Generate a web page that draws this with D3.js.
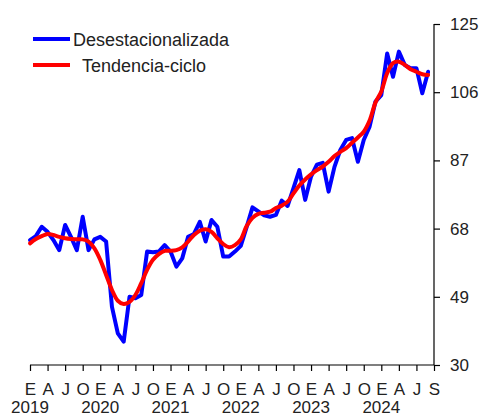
<!DOCTYPE html>
<html><head><meta charset="utf-8">
<script src="https://cdn.jsdelivr.net/npm/d3@7"></script>
<style>html,body{margin:0;padding:0;background:#fff}</style>
</head><body>
<script>
const seasonal = [64.8, 65.9, 68.5, 67.1, 64.8, 62.0, 69.0, 65.7, 62.0, 71.3,
  62.0, 65.0, 65.7, 64.4, 46.2, 38.8, 36.5, 49.0, 48.6, 49.5,
  61.6, 61.4, 61.6, 63.4, 61.6, 57.4, 59.7, 65.7, 66.5, 69.9,
  64.4, 70.4, 68.5, 60.2, 60.2, 61.6, 63.2, 68.4, 73.9, 72.8,
  71.7, 71.3, 71.8, 75.8, 74.3, 79.3, 84.3, 76.0, 82.5, 85.8,
  86.3, 78.3, 85.2, 89.9, 92.7, 93.2, 86.6, 92.7, 96.4, 103.4,
  105.2, 116.8, 110.3, 117.3, 113.6, 112.7, 112.7, 105.7, 111.7];
const trend = [63.9, 65.1, 65.9, 66.5, 66.2, 65.7, 65.3, 65.1, 65.0, 65.0,
  64.4, 62.5, 59.3, 55.1, 50.9, 47.9, 47.0, 47.6, 49.5, 52.8,
  56.5, 59.3, 60.9, 61.8, 61.8, 62.0, 62.8, 64.4, 66.2, 67.4,
  67.8, 67.1, 65.3, 63.7, 62.8, 63.4, 65.0, 68.7, 71.0, 72.1,
  72.4, 72.7, 73.7, 74.4, 75.5, 77.8, 80.0, 81.7, 83.1, 84.3,
  85.3, 86.6, 88.2, 89.4, 90.4, 91.9, 93.4, 95.0, 98.1, 103.1,
  106.2, 111.3, 114.1, 114.5, 113.6, 112.4, 111.7, 111.0, 110.8];
const monthLabels = ["E","A","J","O","E","A","J","O","E","A","J","O","E","A","J","O","E","A","J","O","E","A","J","S"];
const yearLabels = ["2019","2020","2021","2022","2023","2024"];
const yTicks = [30, 49, 68, 87, 106, 125];
const seriesNames = ["Desestacionalizada", "Tendencia-ciclo"];
const seriesColors = ["#0000ff", "#ff0000"];

const W = 481, H = 417;
const svg = d3.select("body").append("svg").attr("width", W).attr("height", H)
  .style("font-family", "'Liberation Sans', Arial, sans-serif");

const x = d3.scaleLinear().domain([0, 69]).range([30, 434]);
const y = d3.scaleLinear().domain([30, 125]).range([365, 24]);

// y axis on right
const yAxis = d3.axisRight(y).tickValues(yTicks).tickSize(6).tickPadding(10).tickFormat(d3.format("d"));
const gy = svg.append("g").attr("transform", "translate(434,0)").call(yAxis);
gy.select(".domain").attr("stroke", "#000").attr("stroke-width", 1.2).attr("d", "M0,24V365");
gy.selectAll(".tick line").attr("stroke", "#000").attr("stroke-width", 1.2);
gy.selectAll(".tick text").attr("fill", "#222").style("font-size", "17px");

// x axis
const tickIdx = d3.range(0, 70, 3);
const xAxis = d3.axisBottom(x).tickValues(tickIdx).tickSize(6).tickPadding(12)
  .tickFormat((d, i) => monthLabels[i]);
const gx = svg.append("g").attr("transform", "translate(0,365)").call(xAxis);
gx.select(".domain").attr("stroke", "#000").attr("stroke-width", 1.2).attr("d", "M30,0H434");
gx.selectAll(".tick line").attr("stroke", "#000").attr("stroke-width", 1.2);
gx.selectAll(".tick text").attr("fill", "#222").style("font-size", "17px");

// year labels
svg.append("g").selectAll("text").data(yearLabels).join("text")
  .attr("x", (d, i) => x(i * 12))
  .attr("y", 413)
  .attr("text-anchor", "middle")
  .attr("fill", "#222")
  .style("font-size", "17px")
  .text(d => d);

// lines
const line = d3.line().x((d, i) => x(i)).y(d => y(d));
const smooth = d3.line().x((d, i) => x(i)).y(d => y(d)).curve(d3.curveCatmullRom.alpha(0.5));
svg.append("path").datum(seasonal).attr("d", line)
  .attr("fill", "none").attr("stroke", seriesColors[0]).attr("stroke-width", 4)
  .attr("stroke-linejoin", "round").attr("stroke-linecap", "round");
svg.append("path").datum(trend).attr("d", smooth)
  .attr("fill", "none").attr("stroke", seriesColors[1]).attr("stroke-width", 4)
  .attr("stroke-linejoin", "round").attr("stroke-linecap", "round");

// legend
const leg = svg.append("g");
const legY = [39, 65];
const legTextX = [73, 82];
seriesNames.forEach((name, i) => {
  leg.append("line").attr("x1", 33).attr("x2", 70).attr("y1", legY[i]).attr("y2", legY[i])
    .attr("stroke", seriesColors[i]).attr("stroke-width", 4);
  leg.append("text").attr("x", legTextX[i]).attr("y", legY[i] + 6.5)
    .attr("fill", "#222").style("font-size", "18px").text(name);
});
</script>
</body></html>
